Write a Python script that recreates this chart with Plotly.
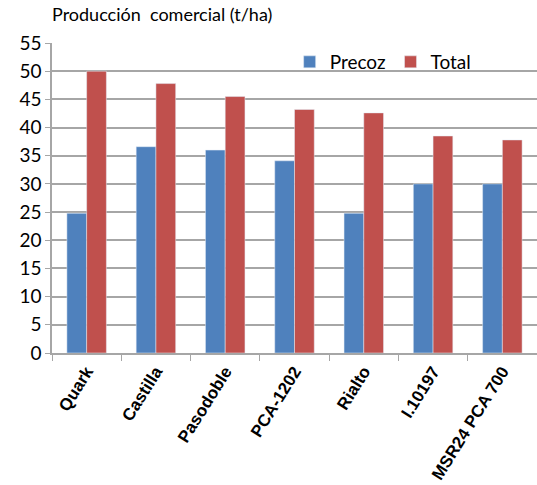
import plotly.graph_objects as go

categories = ["Quark", "Castilla", "Pasodoble", "PCA-1202", "Rialto", "I.10197", "MSR24 PCA 700"]
precoz = [24.8, 36.6, 36.0, 34.1, 24.8, 30.0, 30.0]
total = [50.0, 47.8, 45.5, 43.2, 42.6, 38.5, 37.8]
y_ticks = list(range(0, 60, 5))

fig = go.Figure()
fig.add_trace(go.Bar(name="Precoz", x=categories, y=precoz, marker_color="#4F81BD"))
fig.add_trace(go.Bar(name="Total", x=categories, y=total, marker_color="#C0504D"))

fig.update_layout(
    width=537, height=485,
    margin=dict(l=52, r=0, t=43, b=132),
    plot_bgcolor="white", paper_bgcolor="white",
    barmode="group", bargap=0.43, bargroupgap=0,
    font=dict(family="Lato, Open Sans, sans-serif", size=16, color="black"),
    showlegend=True,
    legend=dict(orientation="h", x=0.49, y=1.0, xanchor="left", yanchor="top",
                font=dict(size=19), bgcolor="rgba(0,0,0,0)", itemwidth=30,
                traceorder="normal"),
    annotations=[dict(text="Producción  comercial (t/ha)", xref="paper", yref="paper",
                      x=-0.005, y=1.05, xanchor="left", yanchor="bottom",
                      showarrow=False, font=dict(size=18))],
)
fig.update_yaxes(range=[0, 55], tickvals=y_ticks, showgrid=True, gridcolor="#A6A6A6",
                 gridwidth=1.5, showline=True, linecolor="#A6A6A6", linewidth=1.5,
                 ticks="outside", ticklen=5, tickcolor="#A6A6A6",
                 tickfont=dict(size=19), zeroline=False)
fig.update_xaxes(showline=True, linecolor="#A6A6A6", linewidth=1.5, ticks="outside",
                 tickson="boundaries", ticklen=6, tickcolor="#A6A6A6", tickangle=-58,
                 tickfont=dict(family="Liberation Sans, Arial", size=17, color="black", weight="bold"))

fig.write_html("out.html")
